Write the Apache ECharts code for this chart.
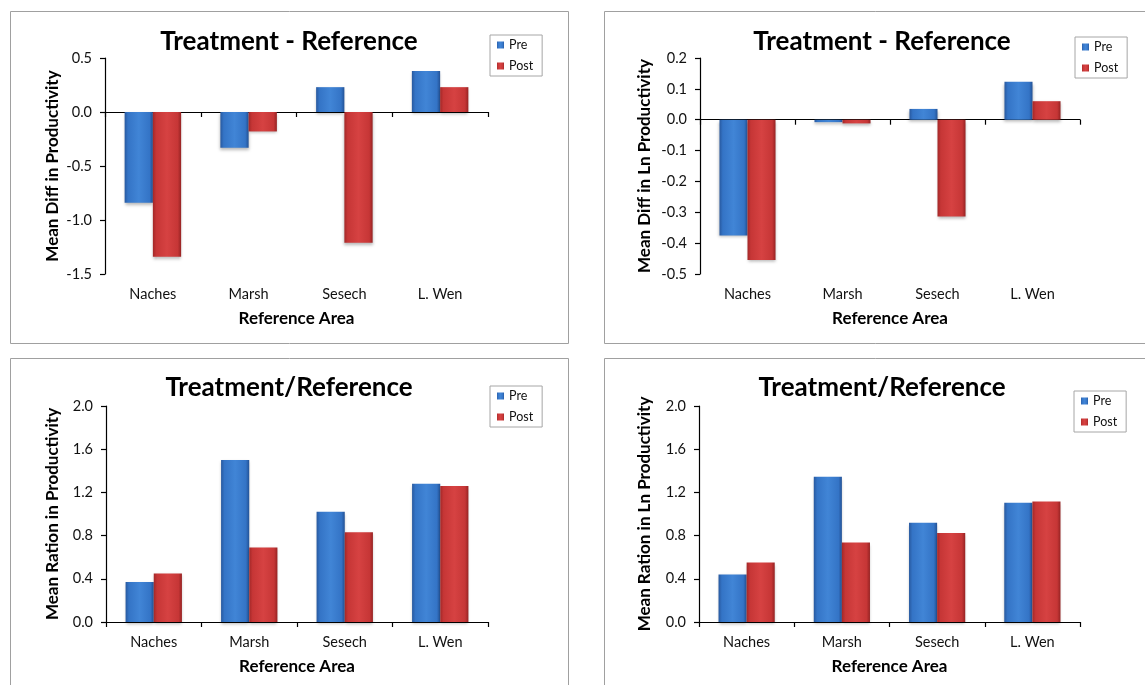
<!DOCTYPE html>
<html>
<head>
<meta charset="utf-8">
<script src="https://cdn.jsdelivr.net/npm/echarts@6/dist/echarts.min.js"></script>
<style>
html,body{margin:0;padding:0;background:#fff;}
#chart{width:1145px;height:685px;}
</style>
</head>
<body>
<div id="chart"></div>
<script>
// ---- data ----
const categories = ['Naches', 'Marsh', 'Sesech', 'L. Wen'];
const seriesNames = ['Pre', 'Post'];
const diffPre = [-0.84, -0.33, 0.23, 0.38];
const diffPost = [-1.34, -0.18, -1.21, 0.23];
const lnDiffPre = [-0.375, -0.008, 0.035, 0.123];
const lnDiffPost = [-0.455, -0.012, -0.314, 0.06];
const ratioPre = [0.37, 1.50, 1.02, 1.28];
const ratioPost = [0.45, 0.69, 0.83, 1.26];
const lnRatioPre = [0.44, 1.345, 0.92, 1.105];
const lnRatioPost = [0.55, 0.735, 0.825, 1.115];
const titles = ['Treatment - Reference', 'Treatment - Reference', 'Treatment/Reference', 'Treatment/Reference'];
const yNames = ['Mean Diff in Productivity', 'Mean Diff in Ln Productivity', 'Mean Ration in Productivity', 'Mean Ration in Ln Productivity'];
const xName = 'Reference Area';

// ---- layout ----
const FONT = 'Lato, "Open Sans", "DejaVu Sans", sans-serif';
const panels = [
  {grid: {left: 105, top: 58, width: 383, height: 216}, y: [-1.5, 0.5, 0.5], pre: diffPre, post: diffPost, neg: true,
   title: [289, 42], legend: {left: 490, top: 35}, yGap: 44, box: [10, 11, 558, 332]},
  {grid: {left: 700, top: 58, width: 380, height: 216}, y: [-0.5, 0.2, 0.1], pre: lnDiffPre, post: lnDiffPost, neg: true,
   title: [882, 42], legend: {left: 1075, top: 37}, yGap: 47, box: [604, 11, 600, 332]},
  {grid: {left: 106, top: 406, width: 382, height: 216}, y: [0, 2.0, 0.4], pre: ratioPre, post: ratioPost, neg: false,
   title: [289, 388], legend: {left: 490, top: 386}, yGap: 45, box: [10, 358, 558, 400]},
  {grid: {left: 699, top: 406, width: 381, height: 216}, y: [0, 2.0, 0.4], pre: lnRatioPre, post: lnRatioPost, neg: false,
   title: [882, 388], legend: {left: 1074, top: 391}, yGap: 46, box: [604, 358, 600, 400]}
];

const blueFill = new echarts.graphic.LinearGradient(0, 0, 1, 0, [
  {offset: 0, color: '#28599f'}, {offset: 0.12, color: '#3474c6'}, {offset: 0.5, color: '#4185d6'},
  {offset: 0.88, color: '#3474c6'}, {offset: 1, color: '#235296'}]);
const redFill = new echarts.graphic.LinearGradient(0, 0, 1, 0, [
  {offset: 0, color: '#a32828'}, {offset: 0.12, color: '#c63636'}, {offset: 0.5, color: '#d64242'},
  {offset: 0.88, color: '#c63636'}, {offset: 1, color: '#962323'}]);

const grids = [], xAxes = [], yAxes = [], series = [], legends = [], graphics = [];
const axisLineStyle = {color: '#000', width: 1.2};
const labelStyle = {color: '#111', fontFamily: FONT, fontSize: 14.5};
const nameStyle = {color: '#000', fontFamily: FONT, fontSize: 17, fontWeight: 'bold'};

panels.forEach((p, i) => {
  grids.push(Object.assign({containLabel: false}, p.grid));
  const mainIdx = xAxes.length;
  xAxes.push({
    gridIndex: i, type: 'category', data: categories, position: 'bottom',
    axisLine: {show: true, onZero: true, lineStyle: axisLineStyle},
    axisTick: {show: true, length: 5, lineStyle: axisLineStyle},
    axisLabel: p.neg ? {show: false} : Object.assign({margin: 13}, labelStyle),
    name: p.neg ? '' : xName, nameLocation: 'middle', nameGap: 36, nameTextStyle: nameStyle,
    splitLine: {show: false}
  });
  if (p.neg) {
    xAxes.push({
      gridIndex: i, type: 'category', data: categories, position: 'bottom',
      axisLine: {show: false, onZero: false}, axisTick: {show: false},
      axisLabel: Object.assign({margin: 13}, labelStyle),
      name: xName, nameLocation: 'middle', nameGap: 36, nameTextStyle: nameStyle,
      splitLine: {show: false}
    });
  }
  yAxes.push({
    gridIndex: i, type: 'value', min: p.y[0], max: p.y[1], interval: p.y[2],
    axisLine: {show: true, lineStyle: axisLineStyle},
    axisTick: {show: true, length: 5, lineStyle: axisLineStyle},
    axisLabel: Object.assign({margin: 13, formatter: v => v.toFixed(1)}, labelStyle),
    splitLine: {show: false},
    name: yNames[i], nameLocation: 'middle', nameGap: p.yGap, nameRotate: 90, nameTextStyle: nameStyle
  });
  [p.pre, p.post].forEach((vals, k) => {
    series.push({
      type: 'bar', name: seriesNames[k], xAxisIndex: mainIdx, yAxisIndex: i, data: vals,
      barGap: '0%', barCategoryGap: '41%',
      itemStyle: {color: k === 0 ? blueFill : redFill, shadowColor: 'rgba(0,0,0,0.28)', shadowBlur: 3, shadowOffsetY: 2},
      emphasis: {disabled: true}, animation: false
    });
  });
  legends.push({
    data: seriesNames, orient: 'vertical', left: p.legend.left, top: p.legend.top,
    padding: [3, 9, 3, 7], itemGap: 7, itemWidth: 7, itemHeight: 7, icon: 'rect',
    borderColor: '#a6a6a6', borderWidth: 1, backgroundColor: '#fff',
    textStyle: {color: '#111', fontFamily: FONT, fontSize: 12.5, lineHeight: 14}
  });
  graphics.push({
    type: 'rect', shape: {x: p.box[0] + 0.5, y: p.box[1] + 0.5, width: p.box[2], height: p.box[3]},
    style: {fill: null, stroke: '#a0a0a0', lineWidth: 1}, z: -10, silent: true
  });
  graphics.push({
    type: 'text', x: p.title[0], y: p.title[1],
    style: {text: titles[i], fill: '#000', font: 'bold 26px ' + FONT, textAlign: 'center', textVerticalAlign: 'middle'},
    silent: true
  });
});

const chart = echarts.init(document.getElementById('chart'), null, {renderer: 'canvas'});
chart.setOption({
  animation: false,
  backgroundColor: '#fff',
  grid: grids, xAxis: xAxes, yAxis: yAxes, series: series, legend: legends, graphic: graphics
});
</script>
</body>
</html>
